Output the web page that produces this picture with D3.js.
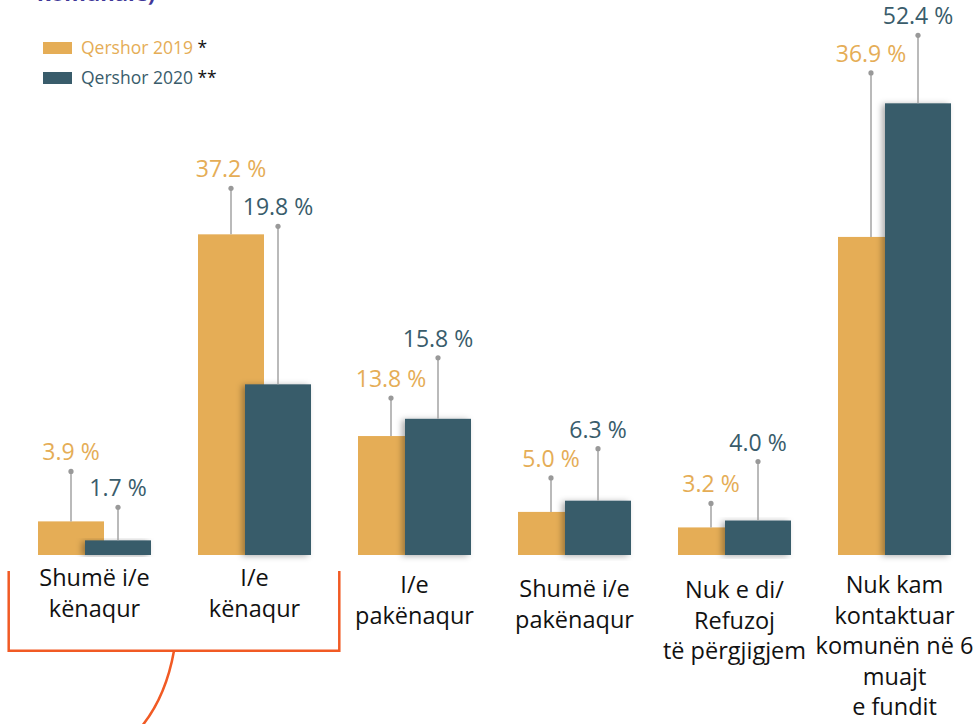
<!DOCTYPE html>
<html>
<head>
<meta charset="utf-8">
<script src="https://cdn.jsdelivr.net/npm/d3@7"></script>
<style>
  body { margin: 0; background: #fff; }
  svg { display: block; font-family: 'Open Sans', sans-serif; }
</style>
</head>
<body>
<div id="chart"></div>
<script>
const categories = [
  ['Shumë i/e', 'kënaqur'],
  ['I/e', 'kënaqur'],
  ['I/e', 'pakënaqur'],
  ['Shumë i/e', 'pakënaqur'],
  ['Nuk e di/', 'Refuzoj', 'të përgjigjem'],
  ['Nuk kam', 'kontaktuar', 'komunën në 6', 'muajt', 'e fundit']
];
const series = ['Qershor 2019', 'Qershor 2020'];
const legendMarks = ['*', '**'];
const values2019 = [3.9, 37.2, 13.8, 5.0, 3.2, 36.9];
const values2020 = [1.7, 19.8, 15.8, 6.3, 4.0, 52.4];

// leader line lengths above each bar (px) and label offsets below baseline
const leader2019 = [50, 46, 38, 34, 24, 164];
const leader2020 = [33, 158, 61, 52, 59, 68];
const labelDrop = [31, 31, 38, 42, 43, 38];

const colors = ['#e5ad56', '#395c6b'];

const width = 979;
const height = 724;

const svg = d3.select('#chart').append('svg').attr('width', width).attr('height', height);

const defs = svg.append('defs');
const shadow = defs.append('filter').attr('id', 'shadow')
  .attr('x', '-30%').attr('y', '-10%').attr('width', '160%').attr('height', '120%');
shadow.append('feDropShadow')
  .attr('dx', -3).attr('dy', 1).attr('stdDeviation', 3)
  .attr('flood-color', '#000').attr('flood-opacity', 0.32);

const ids = categories.map((d, i) => i);

const x = d3.scaleBand().domain(ids).range([38, 951]).paddingInner(47 / 160).paddingOuter(0);
const xSub = d3.scalePoint().domain(series).range([0, 47]);
const barW = 66;

const y = d3.scaleLinear().domain([0, 60]).range([555, 555 - 60 * 8.62]);

const rows = series.map((s, si) => ({
  name: s,
  color: colors[si],
  values: (si === 0 ? values2019 : values2020).map((v, i) => ({
    i, v, leader: (si === 0 ? leader2019 : leader2020)[i]
  }))
}));

// bars
rows.forEach((s, si) => {
  svg.append('g')
    .selectAll('rect')
    .data(s.values)
    .enter()
    .append('rect')
    .attr('x', (d) => x(d.i) + xSub(s.name))
    .attr('y', (d) => y(d.v))
    .attr('width', barW)
    .attr('height', (d) => y(0) - y(d.v))
    .attr('fill', s.color)
    .attr('filter', si === 1 ? 'url(#shadow)' : null);
});

// leader lines, dots and value labels
rows.forEach((s) => {
  const g = svg.append('g');
  const cx = (d) => x(d.i) + xSub(s.name) + barW / 2;
  g.selectAll('line')
    .data(s.values)
    .enter()
    .append('line')
    .attr('x1', cx).attr('x2', cx)
    .attr('y1', (d) => y(d.v))
    .attr('y2', (d) => y(d.v) - d.leader)
    .attr('stroke', '#a3a3a3')
    .attr('stroke-width', 1.5);
  g.selectAll('circle')
    .data(s.values)
    .enter()
    .append('circle')
    .attr('cx', cx)
    .attr('cy', (d) => y(d.v) - d.leader)
    .attr('r', 2.6)
    .attr('fill', '#999');
  g.selectAll('text')
    .data(s.values)
    .enter()
    .append('text')
    .attr('x', cx)
    .attr('y', (d) => y(d.v) - d.leader - 11)
    .attr('text-anchor', 'middle')
    .attr('font-size', 23)
    .attr('fill', s.color)
    .text((d) => d.v.toFixed(1) + ' %');
});

// category labels
const labels = svg.append('g')
  .selectAll('text')
  .data(categories)
  .enter()
  .append('text')
  .attr('text-anchor', 'middle')
  .attr('font-size', 23.5)
  .attr('fill', '#111')
  .attr('transform', (d, i) => `translate(${x(i) + x.bandwidth() / 2}, ${y(0) + labelDrop[i]})`);
labels.selectAll('tspan')
  .data((d) => d)
  .enter()
  .append('tspan')
  .attr('x', 0)
  .attr('dy', (d, j) => (j === 0 ? 0 : 30.5))
  .text((d) => d);

// bracket round the satisfied answers
svg.append('path')
  .attr('d', 'M8.7,571 V650.7 H339.3 V571')
  .attr('fill', 'none')
  .attr('stroke', '#f15a24')
  .attr('stroke-width', 2.5);
svg.append('path')
  .attr('d', 'M174,650.7 Q166,696 142,726')
  .attr('fill', 'none')
  .attr('stroke', '#f15a24')
  .attr('stroke-width', 2.5);

// clipped title remnant at top
svg.append('text')
  .attr('x', 37)
  .attr('y', 1)
  .attr('font-size', 22)
  .attr('font-weight', 'bold')
  .attr('fill', '#3f3898')
  .text('komunale)');

// legend
const legend = svg.append('g').attr('transform', 'translate(43, 42)');
series.forEach((s, si) => {
  const row = legend.append('g').attr('transform', `translate(0, ${si * 30})`);
  row.append('rect').attr('width', 29).attr('height', 12).attr('fill', colors[si]);
  const t = row.append('text').attr('x', 38).attr('y', 12).attr('font-size', 17.5);
  t.append('tspan').attr('fill', colors[si]).text(s);
  t.append('tspan').attr('fill', '#111').text(' ' + legendMarks[si]);
});
</script>
</body>
</html>
